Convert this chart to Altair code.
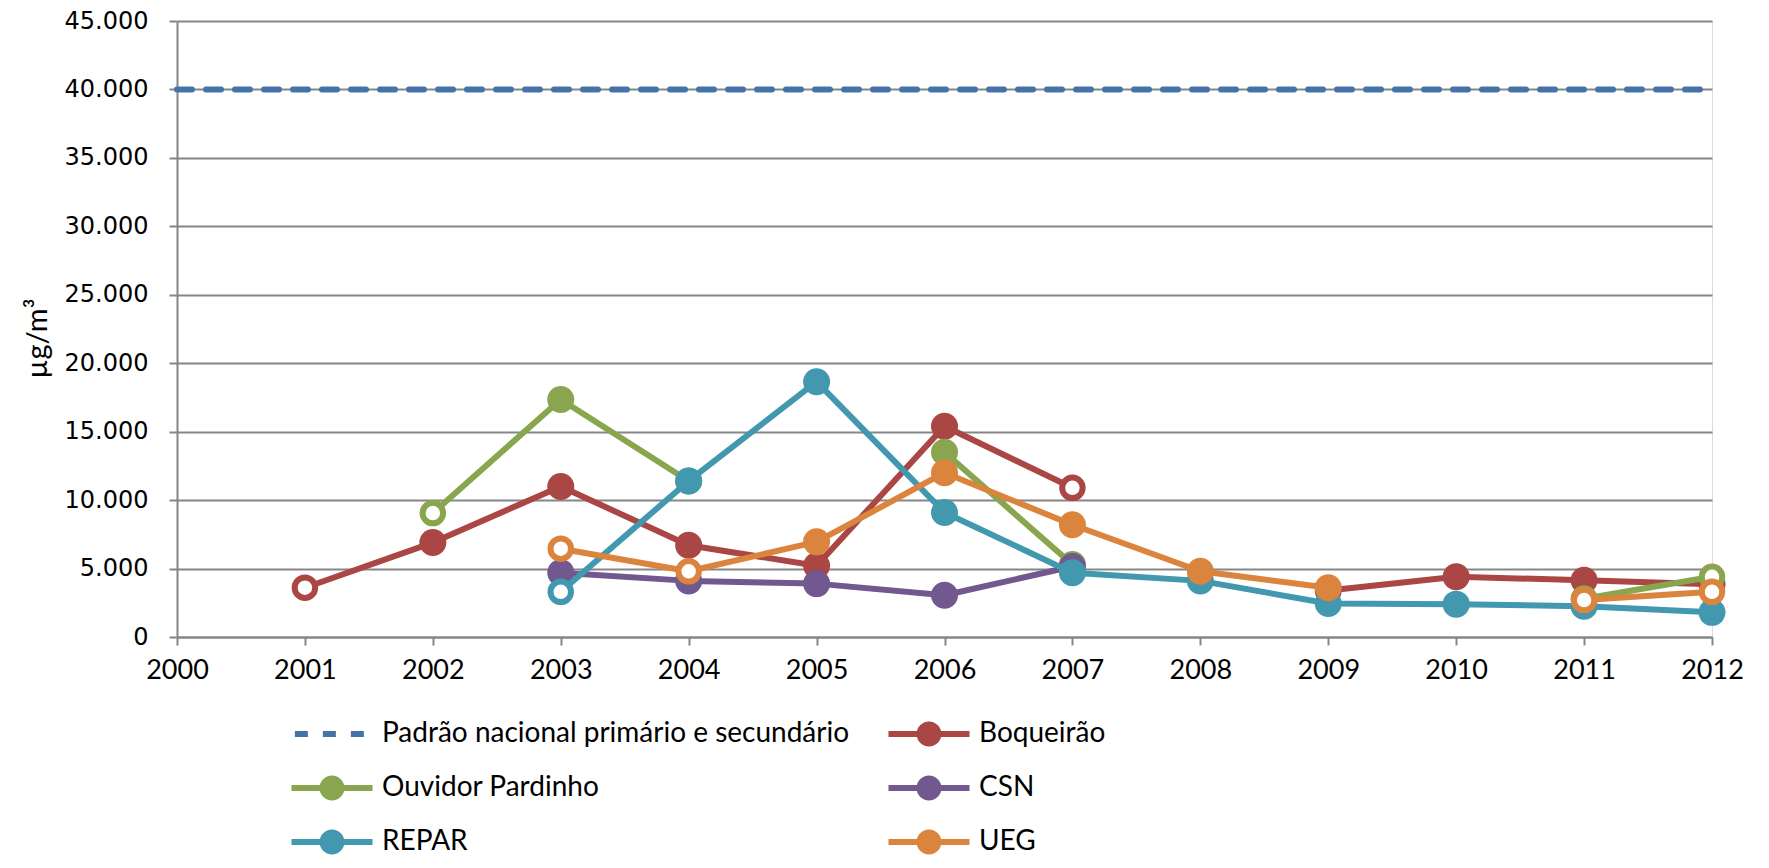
import altair as alt
import pandas as pd

# ---------------- data ----------------
years = [2000, 2001, 2002, 2003, 2004, 2005, 2006, 2007, 2008, 2009, 2010, 2011, 2012]
y_ticks = [0, 5000, 10000, 15000, 20000, 25000, 30000, 35000, 40000, 45000]

series_names = ["Padrão nacional primário e secundário", "Boqueirão",
                "Ouvidor Pardinho", "CSN", "REPAR", "UEG"]
series_colors = ["#4572A7", "#AA4643", "#89A54E", "#71588F", "#4198AF", "#DB843D"]

padrao = [40000, 40000, 40000, 40000, 40000, 40000, 40000, 40000, 40000, 40000, 40000, 40000, 40000]
boqueirao = [None, 3600, 6900, 11000, 6700, 5200, 15400, 10900, None, 3400, 4400, 4150, 3850]
ouvidor = [None, None, 9050, 17350, 11400, None, 13500, 5300, None, None, None, 2800, 4400]
csn = [None, None, None, 4700, 4100, 3900, 3050, 5150, None, None, None, None, None]
repar = [None, None, None, 3300, 11400, 18650, 9100, 4700, 4100, 2450, 2400, 2250, 1800]
ueg = [None, None, None, 6450, 4800, 6950, 12000, 8200, 4800, 3600, None, 2700, 3300]

# years whose marker is drawn hollow (white centre)
boqueirao_open = [2001, 2007]
ouvidor_open = [2002, 2012]
csn_open = []
repar_open = [2003]
ueg_open = [2003, 2004, 2011, 2012]

stations = [
    ("Boqueirão", boqueirao, boqueirao_open),
    ("Ouvidor Pardinho", ouvidor, ouvidor_open),
    ("CSN", csn, csn_open),
    ("REPAR", repar, repar_open),
    ("UEG", ueg, ueg_open),
]

rows = []
for yr, v in zip(years, padrao):
    rows.append({"serie": series_names[0], "ano": yr, "valor": v, "seg": 0, "aberto": False})
for name, vals, opens in stations:
    seg = 0
    prev_none = True
    for yr, v in zip(years, vals):
        if v is None:
            prev_none = True
            continue
        if prev_none:
            seg += 1
            prev_none = False
        rows.append({"serie": name, "ano": yr, "valor": v, "seg": seg, "aberto": yr in opens})
df = pd.DataFrame(rows)

STD = series_names[0]
FONT_TXT = "Lato"

marker_path = ("M-3,-0.222L3,-0.222L3,0.222L-3,0.222Z "
               "M0.926,0A0.926,0.926,0,1,1,-0.926,0A0.926,0.926,0,1,1,0.926,0Z")
dash_path = "M-2.75,0L2.75,0"
cond = f"datum.value === '{STD}'"

legend = alt.Legend(
    title=None,
    orient="none",
    direction="horizontal",
    legendX=114,
    legendY=699,
    columns=2,
    columnPadding=38,
    rowPadding=26,
    labelFont=FONT_TXT,
    labelFontSize=28,
    labelColor="#000000",
    labelLimit=0,
    labelOffset=36,
    symbolOffset=27,
    symbolSize=729,
    symbolOpacity=1,
    symbolType=alt.ExprRef(expr=f"{cond} ? '{dash_path}' : '{marker_path}'"),
    symbolStrokeWidth=alt.ExprRef(expr=f"{cond} ? 6 : 0"),
    symbolDash=alt.ExprRef(expr=f"{cond} ? [13, 15] : [1, 0]"),
    symbolFillColor=alt.ExprRef(expr="scale('color', datum.value)"),
    symbolStrokeColor=alt.ExprRef(expr="scale('color', datum.value)"),
)

color = alt.Color("serie:N",
                  scale=alt.Scale(domain=series_names, range=series_colors),
                  legend=legend)

x = alt.X("ano:Q",
          scale=alt.Scale(domain=[2000, 2012], nice=False, zero=False),
          axis=alt.Axis(values=years, format="d", grid=False, title=None,
                        labelFont=FONT_TXT, labelFontSize=27, labelColor="#000000",
                        labelPadding=12, tickSize=8, tickWidth=2, tickColor="#868686",
                        domainColor="#868686", domainWidth=2, labelFlush=False))
y = alt.Y("valor:Q",
          scale=alt.Scale(domain=[0, 45000], nice=False),
          axis=alt.Axis(values=y_ticks,
                        labelExpr="replace(format(datum.value, ',d'), ',', '.')",
                        title="µg/m³", titleFont=FONT_TXT, titleFontSize=29,
                        titleFontWeight="normal", titleColor="#000000",
                        titleAngle=-90, titleX=-140, titleY=317,
                        titleAlign="center", titleBaseline="middle",
                        labelFont="DejaVu Sans", labelFontSize=24, labelColor="#000000",
                        labelPadding=21, tickSize=8, tickWidth=2, tickColor="#868686",
                        domainColor="#868686", domainWidth=2,
                        grid=True, gridColor="#868686", gridWidth=2))

base = alt.Chart(df)

layers = [
    base.transform_filter(alt.datum.serie == STD)
        .mark_line(strokeWidth=6, strokeDash=[15, 14], strokeCap="round")
        .encode(x=x, y=y, color=color)
]

for name, _, _ in stations:
    sub = base.transform_filter(alt.datum.serie == name)
    layers.append(
        sub.mark_line(strokeWidth=6, strokeCap="round", strokeJoin="round")
           .encode(x=x, y=y, color=color, detail="seg:N")
    )
    layers.append(
        sub.transform_filter(alt.datum.aberto == False)
           .mark_point(filled=True, shape="circle", size=729, opacity=1)
           .encode(x=x, y=y, color=color)
    )
    layers.append(
        sub.transform_filter(alt.datum.aberto == True)
           .mark_point(filled=False, shape="circle", size=420, strokeWidth=6,
                       fill="white", fillOpacity=1, opacity=1)
           .encode(x=x, y=y, color=color)
    )

chart = alt.layer(*layers).properties(
    width=1535,
    height=616,
    autosize=alt.AutoSizeParams(type="none"),
    padding={"left": 169, "top": 13, "right": 34, "bottom": 218},
).configure_view(stroke=None).configure(background="white")

chart.save("out.html", embed_options={"renderer": "svg", "actions": False})
